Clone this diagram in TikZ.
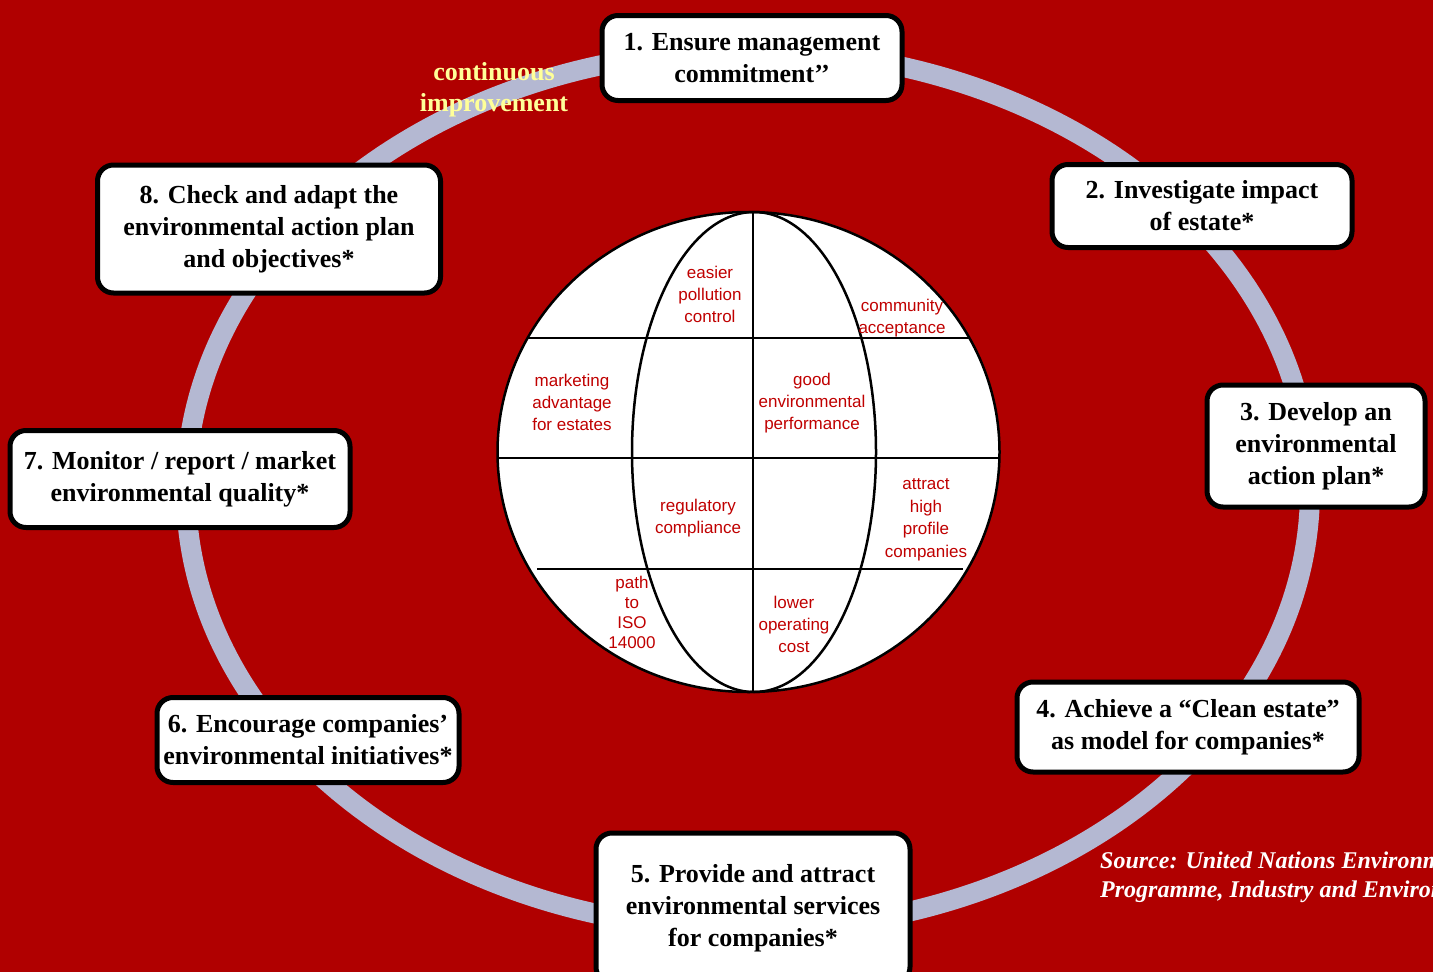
\documentclass[tikz,border=0pt]{standalone}
\usepackage{fontspec}
\setmainfont{Liberation Serif}
\setsansfont{Liberation Sans}
\usetikzlibrary{positioning}
\definecolor{estatered}{HTML}{B00000}
\definecolor{ringblue}{HTML}{B4B8D2}
\definecolor{globered}{HTML}{C00000}
\definecolor{paleyellow}{HTML}{FFFF99}
\tikzset
{
    stepbox/.style = {rectangle, rounded corners=16pt, draw=black, line width=5pt, fill=white, align=center, inner sep=0pt, font=\fontsize{26}{32}\selectfont\bfseries},
    globetext/.style = {align=center, text=globered, inner sep=0pt, font=\sffamily\fontsize{17}{22}\selectfont},
    gridline/.style = {draw=black, line width=2.5pt},
    ringline/.style = {draw=ringblue, line width=20pt}
}

\begin{document}
\begin{tikzpicture}[x=1pt, y=-1pt]
\clip (0,0) rectangle (1433,972);
\fill[estatered] (0,0) rectangle (1433,972);
% the cycle ring
\draw[ringline] (748,490) ellipse [x radius=562, y radius=440];
% the globe
\draw[gridline, fill=white] (748.5,452) ellipse [x radius=251, y radius=240];
\draw[gridline] (754,452) ellipse [x radius=122, y radius=240];
\coordinate (npole) at (753,212);
\coordinate (spole) at (753,692);
\draw[gridline, line width=2pt] (npole) -- (spole);
\draw[gridline] (528,338) -- (970,338);
\draw[gridline] (498,458) -- (999,458);
\draw[gridline] (537,569) -- (963,569);
\node[globetext] (pollution) at (710,294) {easier\\pollution\\control};
\node[globetext] (community) at (902,318) {community\\acceptance};
\node[globetext] (marketing) at (572,402) {marketing\\advantage\\for estates};
\node[globetext] (performance) at (812,403) {good\\environmental\\performance};
\node[globetext] (regulatory) at (698,518) {regulatory\\compliance};
\node[globetext, font=\sffamily\fontsize{17}{22.5}\selectfont] (profile) at (926,520) {attract\\high\\profile\\companies};
\node[globetext, font=\sffamily\fontsize{17}{20}\selectfont] (iso) at (632,612) {path\\to\\ISO\\14000};
\node[globetext] (cost) at (794,624) {lower\\operating\\cost};
% the eight steps
\node[stepbox, minimum width=300pt, minimum height=85pt] (commit) at (752,58) {1. Ensure management\\commitment’’};
\node[stepbox, minimum width=300pt, minimum height=83pt] (impact) at (1202,206) {2. Investigate impact\\of estate*};
\node[stepbox, minimum width=218pt, minimum height=122pt] (plan) at (1316,446) {3. Develop an\\environmental\\action plan*};
\node[stepbox, minimum width=342pt, minimum height=90pt] (clean) at (1188,727) {4. Achieve a “Clean estate”\\as model for companies*};
\node[stepbox, minimum width=314pt, minimum height=150pt] (services) at (753,908) {5. Provide and attract\\environmental services\\for companies*};
\node[stepbox, minimum width=302pt, minimum height=85pt] (initiatives) at (308,740) {6. Encourage companies’\\environmental initiatives*};
\node[stepbox, minimum width=340pt, minimum height=97pt] (monitor) at (180,479) {7. Monitor / report / market\\environmental quality*};
\node[stepbox, minimum width=343pt, minimum height=128pt] (check) at (269,229) {8. Check and adapt the\\environmental action plan\\and objectives*};
% labels
\node[align=center, text=paleyellow, inner sep=0pt, font=\fontsize{26}{31}\selectfont\bfseries] (improve) at (494,90) {continuous\\improvement};
\node[align=left, anchor=north west, text=white, inner sep=0pt, font=\fontsize{24}{29}\selectfont\bfseries\itshape] (source) at (1100,852) {Source: United Nations Environment\\Programme, Industry and Environment};
\end{tikzpicture}
\end{document}
